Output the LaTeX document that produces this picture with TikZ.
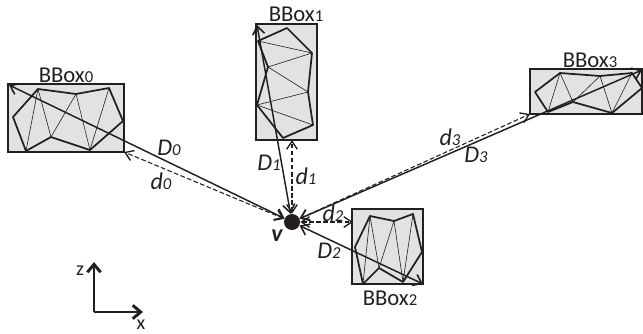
\documentclass[tikz,border=0pt]{standalone}
\usepackage{fontspec}
\setmainfont{Carlito}
\usepackage{xcolor}
\usetikzlibrary{arrows.meta, positioning}
\definecolor{boxfill}{RGB}{225,226,228}
\definecolor{ink}{RGB}{35,31,32}
\newcommand{\lowdigit}[1]{{\fontsize{12.5}{13}\selectfont #1}}
\tikzset{
  bbox/.style={draw=ink, fill=boxfill, line width=1.7pt},
  hull/.style={draw=ink, line width=1.3pt, line join=round},
  tri/.style={draw=ink, line width=0.45pt},
  far/.style={draw=ink, line width=1.1pt, {Straight Barb[length=6pt,width=9pt,line width=1.2pt]}-{Straight Barb[length=6pt,width=9pt,line width=1.2pt]}},
  near/.style={draw=ink, line width=0.8pt, dash pattern=on 3.5pt off 1.8pt, {Straight Barb[length=6pt,width=8pt,line width=1pt]}-{Straight Barb[length=6pt,width=8pt,line width=1pt]}},
  axis/.style={draw=ink, line width=2.2pt, -{Straight Barb[length=6pt,width=10pt,line width=2.2pt]}},
  boxlabel/.style={font=\fontsize{17}{18}\selectfont, text=ink, inner sep=0pt},
  dist/.style={font=\fontsize{18}{19}\selectfont\itshape, text=ink, inner sep=0pt},
  axlabel/.style={font=\fontsize{15}{16}\selectfont, text=ink, inner sep=0pt}
}
\begin{document}
\begin{tikzpicture}[x=0.75pt, y=-0.75pt]
    \useasboundingbox (0,0) rectangle (643,333);
    % bounding boxes
    \draw[bbox] (8,84) rectangle (124,152);
    \draw[bbox] (256,24) rectangle (317,140);
    \draw[bbox] (530,69) rectangle (642,114);
    \draw[bbox] (352,209) rectangle (423,284);
    % triangles
    \foreach \xa/\ya/\xb/\yb in {26/151/38/89, 38/89/51/137, 51/137/76/94, 76/94/90/150, 90/150/109/88,
        258/41/312/53, 312/53/268/67, 268/67/308/92, 308/92/257/105, 257/105/313/125,
        548/112/560/73, 560/73/573/102, 573/102/600/76, 600/76/612/113, 612/113/632/73,
        363/284/370/216, 370/216/379/268, 379/268/394/221, 394/221/403/282, 403/282/413/214} {
      \draw[tri] (\xa,\ya) -- (\xb,\yb);
    }
    % outlines
    \draw[hull] (13,117) -- (38,89) -- (76,94) -- (109,88) -- (123,121) -- (90,150) -- (51,137) -- (26,151) -- cycle;
    \draw[hull] (287,28) -- (312,53) -- (308,92) -- (313,125) -- (283,138) -- (257,105) -- (268,67) -- (258,41) -- cycle;
    \draw[hull] (535,92) -- (560,73) -- (600,76) -- (632,73) -- (642,88) -- (612,113) -- (573,102) -- (548,112) -- cycle;
    \draw[hull] (355,247) -- (370,216) -- (394,221) -- (413,214) -- (422,252) -- (403,282) -- (379,268) -- (363,284) -- cycle;
    % point v
    \node[circle, fill=ink, minimum size=12pt, inner sep=0pt] (v) at (292,222) {};
    \node[font=\fontsize{18}{19}\selectfont\bfseries\itshape, text=ink, inner sep=0pt] (vlabel) at (277,236) {v};
    % box corners
    \coordinate (far0) at (9,85);
    \coordinate (far1) at (257,25);
    \coordinate (far2) at (423,284);
    \coordinate (far3) at (642,70);
    \coordinate (near0) at (124,152);
    \coordinate (near1) at (292,140);
    \coordinate (near2) at (353,222);
    \coordinate (near3) at (530,114);
    % distances
    \foreach \i in {0,1,2,3} {
      \draw[far] (v) -- (far\i);
      \draw[near] (v) -- (near\i);
    }
    % labels
    \node[boxlabel] (bbox0) at (66,75) {BBox\lowdigit{0}};
    \node[boxlabel] (bbox1) at (296,14) {BBox\lowdigit{1}};
    \node[boxlabel] (bbox2) at (390,298) {BBox\lowdigit{2}};
    \node[boxlabel] (bbox3) at (590,60) {BBox\lowdigit{3}};
    \node[dist] (lD0) at (169,148) {D\lowdigit{0}};
    \node[dist] (ld0) at (161,181) {d\lowdigit{0}};
    \node[dist] (lD1) at (269,163) {D\lowdigit{1}};
    \node[dist] (ld1) at (306,176) {d\lowdigit{1}};
    \node[dist] (lD2) at (329,251) {D\lowdigit{2}};
    \node[dist] (ld2) at (333,213) {d\lowdigit{2}};
    \node[dist] (lD3) at (476,155) {D\lowdigit{3}};
    \node[dist] (ld3) at (450,137) {d\lowdigit{3}};
    % axes
    \coordinate (origin) at (94,312);
    \coordinate (zend) at (94,262);
    \coordinate (xend) at (143,312);
    \draw[axis] (origin) -- (zend);
    \draw[axis] (origin) -- (xend);
    \node[axlabel] (zlabel) at (80,271) {z};
    \node[axlabel] (xlabel) at (141,325) {x};
\end{tikzpicture}
\end{document}
